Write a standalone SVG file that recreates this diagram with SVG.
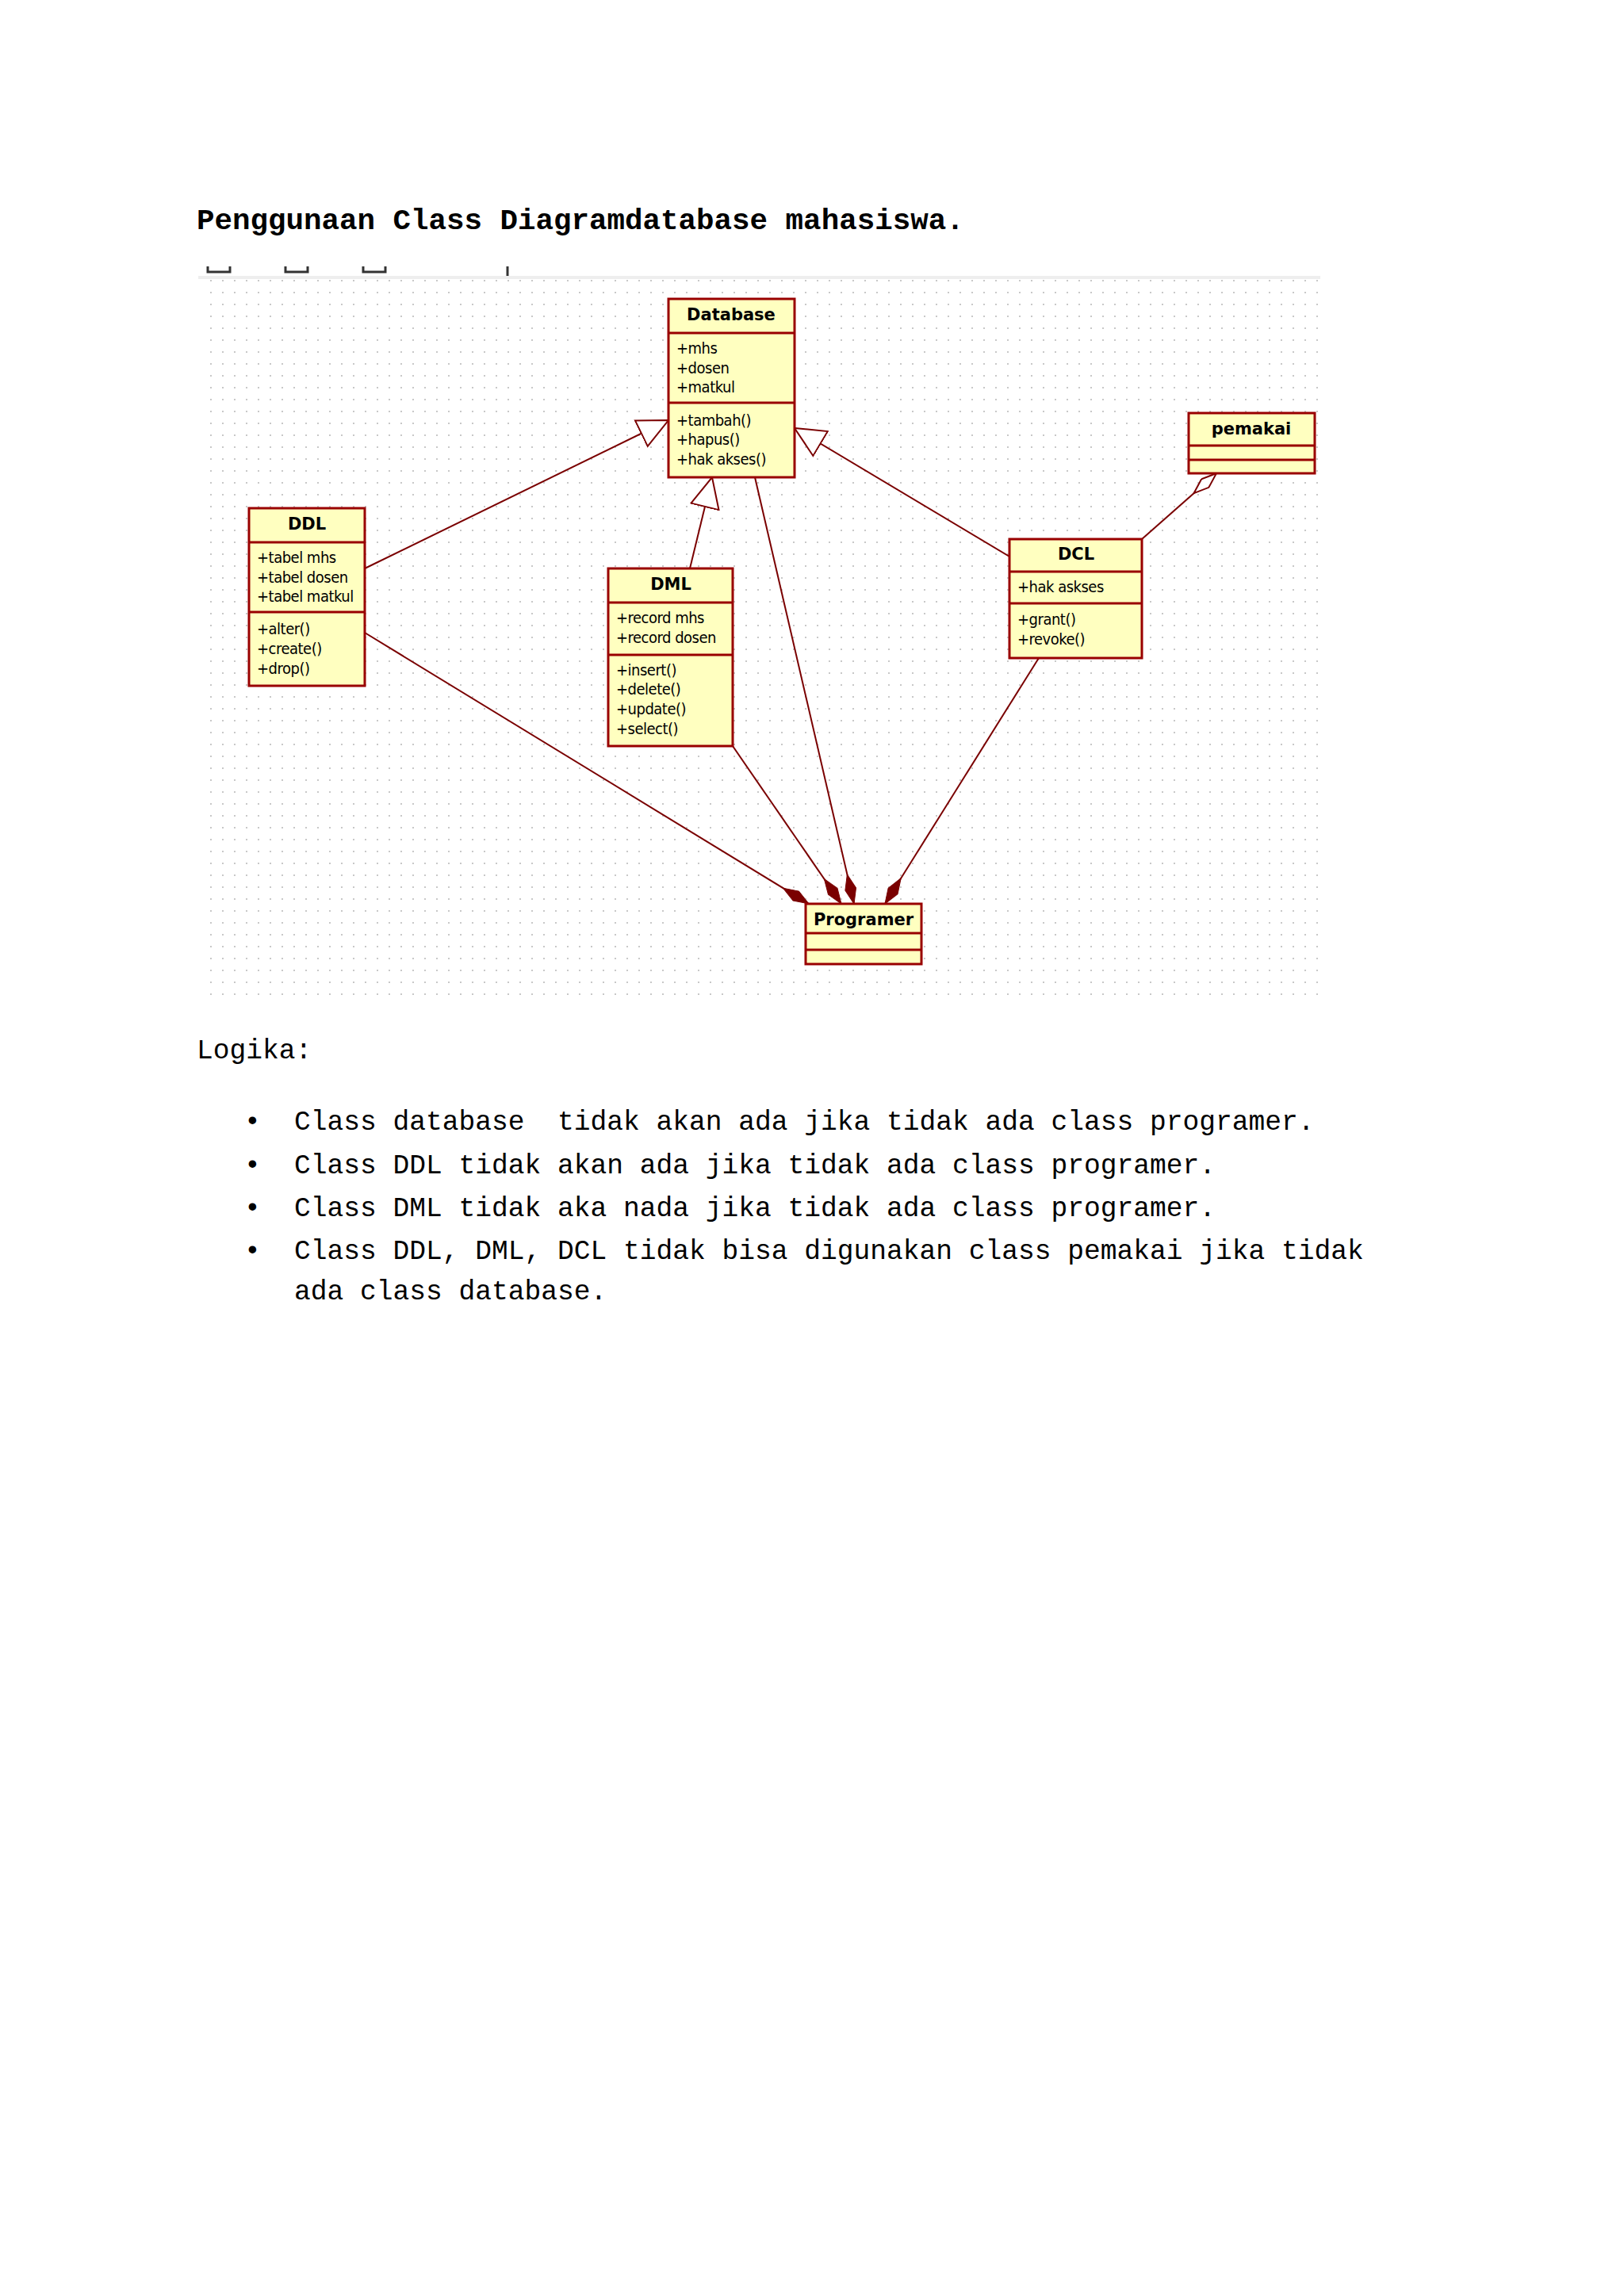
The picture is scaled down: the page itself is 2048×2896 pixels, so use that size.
<svg xmlns="http://www.w3.org/2000/svg" width="2048" height="2896" viewBox="0 0 2048 2896">
<defs>
<pattern id="dots" x="259" y="347" width="15" height="15" patternUnits="userSpaceOnUse"><rect x="6" y="6" width="2" height="2" fill="#c8c8c8"/></pattern>
<marker id="tri" viewBox="0 0 20 20" refX="19" refY="10" markerWidth="20" markerHeight="20" markerUnits="userSpaceOnUse" orient="auto"><path d="M1,1 L19,10 L1,19 Z" fill="#fff" stroke="#7a0000" stroke-width="1.5"/></marker>
<marker id="triB" viewBox="0 0 40 40" refX="39" refY="20" markerWidth="40" markerHeight="40" markerUnits="userSpaceOnUse" orient="auto"><path d="M1,2 L39,20 L1,38 Z" fill="#fff" stroke="#7a0000" stroke-width="2"/></marker>
<marker id="dia" viewBox="0 0 40 16" refX="39" refY="8" markerWidth="40" markerHeight="16" markerUnits="userSpaceOnUse" orient="auto"><path d="M1,8 L20,1 L39,8 L20,15 Z" fill="#7a0000" stroke="#7a0000"/></marker>
<marker id="odia" viewBox="0 0 40 16" refX="39" refY="8" markerWidth="40" markerHeight="16" markerUnits="userSpaceOnUse" orient="auto"><path d="M1,8 L20,1 L39,8 L20,15 Z" fill="#fff" stroke="#7a0000" stroke-width="2"/></marker>
</defs>
<style>
.box{fill:#ffffc0;stroke:#990000;stroke-width:3}
.sep{stroke:#990000;stroke-width:3}
.hd{font-family:Tahoma,"DejaVu Sans","Liberation Sans",sans-serif;font-weight:bold;font-size:21px;fill:#000;text-anchor:middle}
.at{font-family:Tahoma,"DejaVu Sans Condensed","Liberation Sans",sans-serif;font-size:20px;fill:#000;letter-spacing:-0.5px}
.ln{stroke:#7a0000;stroke-width:2;fill:none}
.mono{font-family:"Liberation Mono","DejaVu Sans Mono",monospace;font-size:34.6px;fill:#000}
</style>
<rect width="2048" height="2896" fill="#fff"/>
<text x="248" y="289" class="mono" style="font-weight:bold;font-size:37.5px">Penggunaan Class Diagramdatabase mahasiswa.</text>
<rect x="259" y="347" width="1404" height="919" fill="url(#dots)"/>
<line x1="250" y1="350" x2="1665" y2="350" stroke="#eeeeee" stroke-width="4"/>
<g fill="none" stroke="#333" stroke-width="3"><path d="M262,336 V343 H290 V336"/><path d="M360,336 V343 H388 V336"/><path d="M458,336 V343 H486 V336"/><line x1="640" y1="336" x2="640" y2="348"/></g>
<g id="connectors">
<line class="ln" x1="460" y1="717" x2="843" y2="530" marker-end="url(#triB)"/>
<line class="ln" x1="870" y1="717" x2="898" y2="602" marker-end="url(#triB)"/>
<line class="ln" x1="1273" y1="702" x2="1002" y2="540" marker-end="url(#triB)"/>
<line class="ln" x1="1440" y1="680" x2="1534" y2="597" marker-end="url(#odia)"/>
<line class="ln" x1="460" y1="798" x2="1020" y2="1140" marker-end="url(#dia)"/>
<line class="ln" x1="924" y1="941" x2="1061" y2="1140" marker-end="url(#dia)"/>
<line class="ln" x1="952" y1="602" x2="1077" y2="1140" marker-end="url(#dia)"/>
<line class="ln" x1="1310" y1="830" x2="1116" y2="1140" marker-end="url(#dia)"/>
</g>
<g id="database">
<rect class="box" x="843" y="377" width="159" height="225"/>
<line class="sep" x1="843" y1="420" x2="1002" y2="420"/><line class="sep" x1="843" y1="508" x2="1002" y2="508"/>
<text class="hd" x="922" y="404">Database</text>
<text class="at" x="853" y="446">+mhs</text><text class="at" x="853" y="471">+dosen</text><text class="at" x="853" y="495">+matkul</text>
<text class="at" x="853" y="537">+tambah()</text><text class="at" x="853" y="561">+hapus()</text><text class="at" x="853" y="586">+hak akses()</text>
</g>
<g id="ddl">
<rect class="box" x="314" y="641" width="146" height="224"/>
<line class="sep" x1="314" y1="684" x2="460" y2="684"/><line class="sep" x1="314" y1="772" x2="460" y2="772"/>
<text class="hd" x="387" y="668">DDL</text>
<text class="at" x="324" y="710">+tabel mhs</text><text class="at" x="324" y="735">+tabel dosen</text><text class="at" x="324" y="759">+tabel matkul</text>
<text class="at" x="324" y="800">+alter()</text><text class="at" x="324" y="825">+create()</text><text class="at" x="324" y="850">+drop()</text>
</g>
<g id="dml">
<rect class="box" x="767" y="717" width="157" height="224"/>
<line class="sep" x1="767" y1="760" x2="924" y2="760"/><line class="sep" x1="767" y1="826" x2="924" y2="826"/>
<text class="hd" x="846" y="744">DML</text>
<text class="at" x="777" y="786">+record mhs</text><text class="at" x="777" y="811">+record dosen</text>
<text class="at" x="777" y="852">+insert()</text><text class="at" x="777" y="876">+delete()</text><text class="at" x="777" y="901">+update()</text><text class="at" x="777" y="926">+select()</text>
</g>
<g id="dcl">
<rect class="box" x="1273" y="680" width="167" height="150"/>
<line class="sep" x1="1273" y1="721" x2="1440" y2="721"/><line class="sep" x1="1273" y1="761" x2="1440" y2="761"/>
<text class="hd" x="1357" y="706">DCL</text>
<text class="at" x="1283" y="747">+hak askses</text>
<text class="at" x="1283" y="788">+grant()</text><text class="at" x="1283" y="813">+revoke()</text>
</g>
<g id="pemakai">
<rect class="box" x="1499" y="521" width="159" height="76"/>
<line class="sep" x1="1499" y1="562" x2="1658" y2="562"/><line class="sep" x1="1499" y1="580" x2="1658" y2="580"/>
<text class="hd" x="1578" y="548">pemakai</text>
</g>
<g id="programer">
<rect class="box" x="1016" y="1140" width="146" height="76"/>
<line class="sep" x1="1016" y1="1177" x2="1162" y2="1177"/><line class="sep" x1="1016" y1="1198" x2="1162" y2="1198"/>
<text class="hd" x="1089" y="1167">Programer</text>
</g>
<text x="248" y="1335" class="mono">Logika:</text>
<g class="mono">
<text x="308" y="1425">•</text><text x="371" y="1425" xml:space="preserve">Class database  tidak akan ada jika tidak ada class programer.</text>
<text x="308" y="1480">•</text><text x="371" y="1480">Class DDL tidak akan ada jika tidak ada class programer.</text>
<text x="308" y="1534">•</text><text x="371" y="1534">Class DML tidak aka nada jika tidak ada class programer.</text>
<text x="308" y="1588">•</text><text x="371" y="1588">Class DDL, DML, DCL tidak bisa digunakan class pemakai jika tidak</text>
<text x="371" y="1639">ada class database.</text>
</g>
</svg>
